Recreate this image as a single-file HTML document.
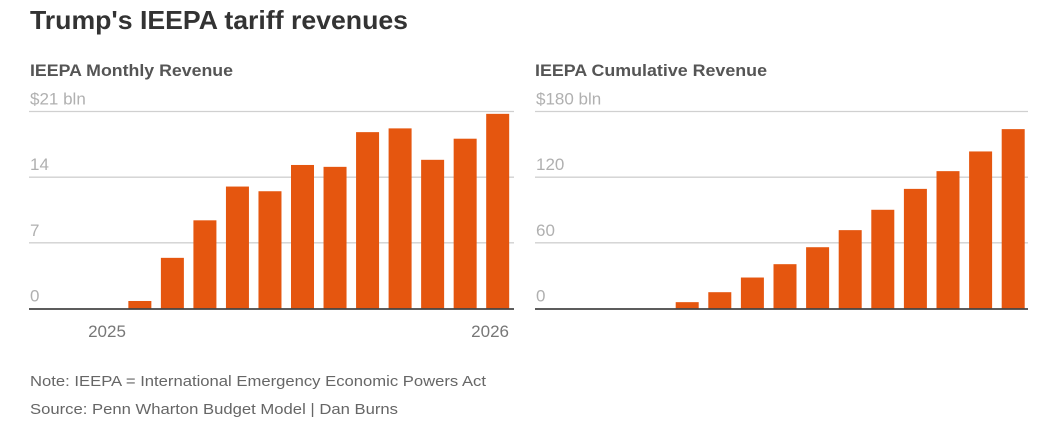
<!DOCTYPE html>
<html><head><meta charset="utf-8"><style>
html,body{margin:0;padding:0;background:#fff;width:1043px;height:424px;overflow:hidden}
svg{display:block;font-family:"Liberation Sans",sans-serif}
</style></head><body>
<svg id="chart" width="1043" height="424" viewBox="0 0 1043 424">
<text x="30" y="29" font-size="26" font-weight="bold" fill="#333" textLength="378" lengthAdjust="spacingAndGlyphs">Trump's IEEPA tariff revenues</text>
<text x="30" y="76" font-size="17" font-weight="bold" fill="#555" textLength="203" lengthAdjust="spacingAndGlyphs">IEEPA Monthly Revenue</text>
<text x="535" y="76" font-size="17" font-weight="bold" fill="#555" textLength="232" lengthAdjust="spacingAndGlyphs">IEEPA Cumulative Revenue</text>
<g id="left"></g>
<g id="right"></g>
<text x="30" y="386" font-size="15" fill="#666" textLength="456" lengthAdjust="spacingAndGlyphs">Note: IEEPA = International Emergency Economic Powers Act</text>
<text x="30" y="414" font-size="15" fill="#666" textLength="368" lengthAdjust="spacingAndGlyphs">Source: Penn Wharton Budget Model | Dan Burns</text>
</svg>
<script>
const monthlyValues = [0, 0, 0, 0.8, 5.4, 9.4, 13.0, 12.5, 15.3, 15.1, 18.8, 19.2, 15.85, 18.1, 20.75];
const monthlyTicks = [0, 7, 14, 21];
const monthlyTickLabels = ["0", "7", "14", "$21 bln"];
const cumulativeValues = [0, 0, 0, 0, 5.8, 14.9, 28.3, 40.5, 56.0, 71.6, 90.2, 109.3, 125.5, 143.5, 163.9];
const cumulativeTicks = [0, 60, 120, 180];
const cumulativeTickLabels = ["0", "60", "120", "$180 bln"];
const yearLabels = ["2025", "2026"];

const NS = "http://www.w3.org/2000/svg";
function mk(g, tag, attrs, txt){
  const e = document.createElementNS(NS, tag);
  for (const k in attrs) e.setAttribute(k, attrs[k]);
  if (txt !== undefined) e.textContent = txt;
  g.appendChild(e); return e;
}
function drawChart(gid, values, ticks, labels, cfg){
  const g = document.getElementById(gid);
  const maxV = ticks[ticks.length-1];
  const y = v => cfg.y0 - (v / maxV) * (cfg.y0 - cfg.yTop);
  const xs = i => cfg.x0 + i * cfg.step;
  ticks.forEach((t, i) => {
    if (i > 0) {
      const l = mk(g, "line", {x1: cfg.gx0, x2: cfg.gx1, y1: y(t), y2: y(t), stroke: "#d0d0d0", "stroke-width": 1.3});
      
      
    }
    const tx = mk(g, "text", {x: cfg.gx0 + 1, y: y(t) - 7, "font-size": 17, fill: "#b0b0b0"}, labels[i]);
    
    
  });
  values.forEach((v, i) => {
    if (v <= 0) return;
    const r = mk(g, "rect", {x: xs(i) + (cfg.step - cfg.bw) / 2, y: y(v), width: cfg.bw, height: cfg.y0 - y(v), fill: "#e5560f"});
    
    
  });
  const ax = mk(g, "line", {x1: cfg.gx0, x2: cfg.gx1, y1: cfg.y0 + 0.5, y2: cfg.y0 + 0.5, stroke: "#444", "stroke-width": 1.8});
  
  
}
drawChart("left", monthlyValues, monthlyTicks, monthlyTickLabels,
  {x0: 26, step: 32.53, bw: 23, y0: 308.5, yTop: 111.5, gx0: 29, gx1: 514});
drawChart("right", cumulativeValues, cumulativeTicks, cumulativeTickLabels,
  {x0: 540.5, step: 32.6, bw: 23, y0: 308.5, yTop: 111.5, gx0: 535, gx1: 1028});
const lg = document.getElementById("left");
const y1 = mk(lg, "text", {x: 107, y: 337, "font-size": 17, fill: "#777", "text-anchor": "middle"}, yearLabels[0]);


const y2 = mk(lg, "text", {x: 509, y: 337, "font-size": 17, fill: "#777", "text-anchor": "end"}, yearLabels[1]);


</script>
</body></html>
